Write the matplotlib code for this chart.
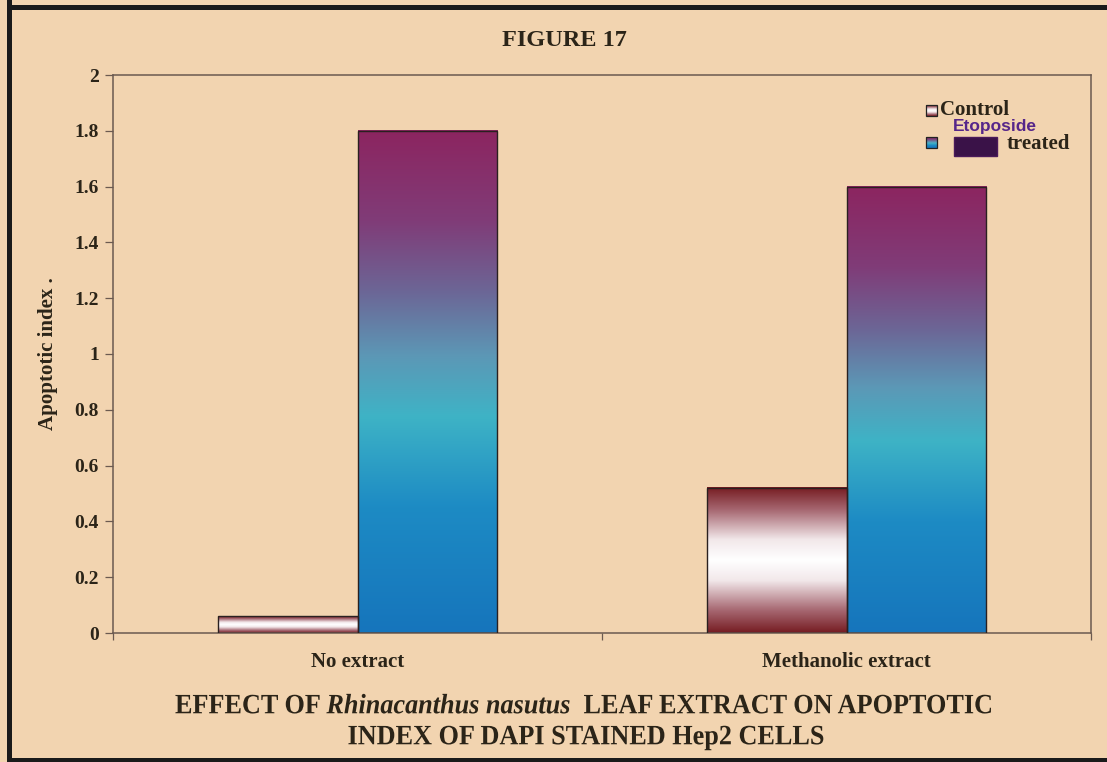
import numpy as np
import matplotlib
matplotlib.use("Agg")
import matplotlib.pyplot as plt
from matplotlib.colors import LinearSegmentedColormap
from matplotlib.patches import Rectangle, PathPatch
from matplotlib.textpath import TextPath, TextToPath
from matplotlib.font_manager import FontProperties
from matplotlib.transforms import Affine2D

# ---- data ----
categories = ["No extract", "Methanolic extract"]
control = [0.06, 0.52]
treated = [1.80, 1.60]
yticks = [0, 0.2, 0.4, 0.6, 0.8, 1, 1.2, 1.4, 1.6, 1.8, 2]
ytick_labels = ["0", "0.2", "0.4", "0.6", "0.8", "1", "1.2", "1.4", "1.6", "1.8", "2"]

BG = "#F2D4B0"
INK = "#2b2418"
SERIF = ["Liberation Serif", "DejaVu Serif"]
plt.rcParams["font.family"] = SERIF
plt.rcParams["font.weight"] = "bold"

W, H = 1107, 762
AX_L, AX_R, AX_T, AX_B = 113, 1091, 75, 633
fig = plt.figure(figsize=(W / 100, H / 100), dpi=100, facecolor=BG)
ax = fig.add_axes([AX_L / W, 1 - AX_B / H, (AX_R - AX_L) / W, (AX_B - AX_T) / H])
ax.set_facecolor(BG)

# gradient fills
ctrl_cmap = LinearSegmentedColormap.from_list(
    "ctrl",
    [(0.0, "#761C22"), (0.16, "#A86A74"), (0.36, "#F2E8EA"), (0.5, "#FFFFFF"),
     (0.64, "#F2E8EA"), (0.84, "#A86A74"), (1.0, "#761C22")])
trt_cmap = LinearSegmentedColormap.from_list(
    "trt",
    [(0.0, "#1675BC"), (0.25, "#1D8BC4"), (0.43, "#3EB3C6"), (0.55, "#5C98B6"),
     (0.68, "#6C6696"), (0.82, "#803C78"), (1.0, "#8C2560")])

w = 0.285
x = np.arange(len(categories))
bars_c = ax.bar(x - w / 2, control, width=w, facecolor="none",
                edgecolor="#2a2020", linewidth=1.0, zorder=3)
bars_t = ax.bar(x + w / 2, treated, width=w, facecolor="none",
                edgecolor="#2a2020", linewidth=1.0, zorder=3)

grad = np.linspace(0, 1, 256).reshape(-1, 1)
for bars, cmap in ((bars_c, ctrl_cmap), (bars_t, trt_cmap)):
    for b in bars:
        x0, w0, h0 = b.get_x(), b.get_width(), b.get_height()
        ax.imshow(grad, cmap=cmap, origin="lower", aspect="auto",
                  extent=[x0, x0 + w0, 0, h0], zorder=2, interpolation="bilinear")

ax.set_xlim(-0.5, 1.5)
ax.set_ylim(0, 2)

ax.set_yticks(yticks)
ax.set_yticklabels(ytick_labels, fontsize=14, fontweight="bold", color=INK)
ax.tick_params(axis="y", direction="out", length=6, width=0.9, color="#6b5a50", pad=4)

ax.set_xticks(x)
ax.set_xticklabels(categories, fontsize=15, fontweight="bold", color=INK)
ax.tick_params(axis="x", which="major", length=0, pad=14)
ax.set_xticks([-0.5, 0.5, 1.5], minor=True)
ax.tick_params(axis="x", which="minor", direction="out", length=5, width=0.9, color="#6b5a50")

for s in ax.spines.values():
    s.set_color("#6b5a50")
    s.set_linewidth(1.1)

ax.set_ylabel("Apoptotic index .", fontsize=15, fontweight="bold", color=INK, labelpad=12)


def ax_xy(px, py):
    """Image pixel position -> axes fraction."""
    return (px - AX_L) / (AX_R - AX_L), 1 - (py - AX_T) / (AX_B - AX_T)


def swatch(px0, py0, px1, py1, cmap):
    x0, y1 = ax_xy(px0, py0)
    x1, y0 = ax_xy(px1, py1)
    ax.imshow(grad, cmap=cmap, origin="lower", aspect="auto",
              extent=[x0, x1, y0, y1], transform=ax.transAxes, zorder=5)
    ax.add_patch(Rectangle((x0, y0), x1 - x0, y1 - y0, transform=ax.transAxes,
                           facecolor="none", edgecolor="#222", lw=0.9, zorder=6))


# legend drawn by hand
swatch(926, 105, 937, 116, ctrl_cmap)
swatch(926, 137, 937, 148, trt_cmap)
ax.text(*ax_xy(940, 110), "Control", transform=ax.transAxes, fontsize=15,
        fontweight="bold", color=INK, va="center", ha="left", zorder=7)
ax.text(*ax_xy(1007, 144), "treated", transform=ax.transAxes, fontsize=15,
        fontweight="bold", color=INK, va="center", ha="left", zorder=7)
ax.text(*ax_xy(953, 127), "Etoposide", transform=ax.transAxes, fontsize=12.5,
        fontweight="bold", family=["Liberation Sans", "DejaVu Sans"],
        color="#56268a", va="center", ha="left", zorder=7)
bx0, by1 = ax_xy(954, 137)
bx1, by0 = ax_xy(997, 156)
ax.add_patch(Rectangle((bx0, by0), bx1 - bx0, by1 - by0, transform=ax.transAxes,
                       facecolor="#3a1248", edgecolor="#4a1a5a", lw=1, zorder=7))

# title
fig.text(564 / W, 1 - 41 / H, "FIGURE 17", ha="center", va="center",
         fontsize=17.5, fontweight="bold", color=INK)

# caption: condensed serif text built from glyph paths
ttp = TextToPath()
bold = FontProperties(family=SERIF, weight="bold")
bold_it = FontProperties(family=SERIF, weight="bold", style="italic")


def line_paths(parts, size_px):
    paths, xpos = [], 0.0
    for s, prop in parts:
        p = prop.copy()
        p.set_size(size_px)
        paths.append(TextPath((xpos, 0), s, prop=p))
        wdt, _, _ = ttp.get_text_width_height_descent(s, p, ismath=False)
        xpos += wdt
    return paths, xpos


def draw_line(parts, cx, cy, size_px, sx):
    paths, total = line_paths(parts, size_px)
    cap = 0.662 * size_px
    tr = Affine2D().scale(sx, 1).translate(cx - total * sx / 2, (H - cy) - cap / 2)
    for p in paths:
        fig.add_artist(PathPatch(p, transform=tr, facecolor=INK, edgecolor="none"))


CAP_SIZE = 28
line1 = [("EFFECT OF ", bold), ("Rhinacanthus nasutus", bold_it),
         ("  LEAF EXTRACT ON APOPTOTIC", bold)]
line2 = [("INDEX OF DAPI STAINED Hep2 CELLS", bold)]
_, w1 = line_paths(line1, CAP_SIZE)
squeeze = 818 / w1
draw_line(line1, 584, 704, CAP_SIZE, squeeze)
draw_line(line2, 586, 735, CAP_SIZE, squeeze)

# dark frame along top, left and bottom edges
for rect in [(7, 0, 5, H), (7, H - 10, W, 5), (7, 0, W, 4)]:
    fig.patches.append(Rectangle((rect[0] / W, rect[1] / H), rect[2] / W, rect[3] / H,
                                 transform=fig.transFigure,
                                 facecolor="#1a1a1a", edgecolor="none"))

fig.savefig("out.png", dpi=100, facecolor=BG)
